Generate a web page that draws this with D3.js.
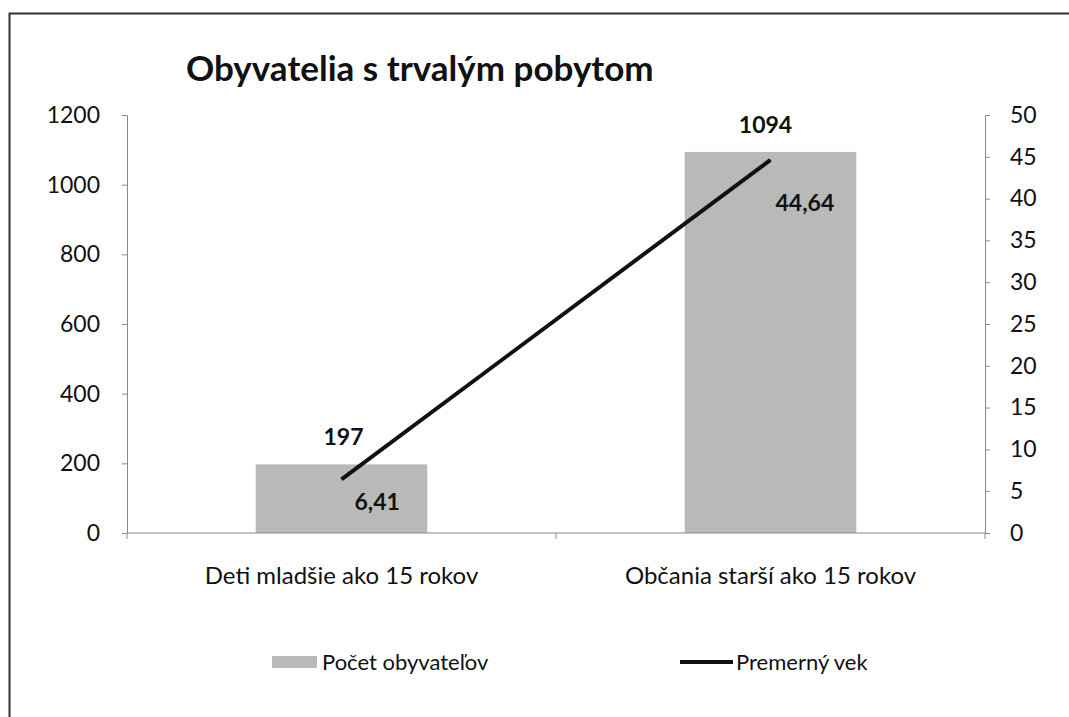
<!DOCTYPE html>
<html>
<head>
<meta charset="utf-8">
<script src="https://cdn.jsdelivr.net/npm/d3@7"></script>
<style>
  body { margin: 0; background: #fff; }
  text { font-family: Lato, "Open Sans", sans-serif; fill: #111; }
  .axis path, .axis line { stroke: #8a8a8a; }
</style>
</head>
<body>
<svg id="graf" width="1069" height="717"></svg>
<script>
// data
var categories = ["Deti mladšie ako 15 rokov", "Občania starší ako 15 rokov"];
var pocet = [197, 1094];
var vek = [6.41, 44.64];
var vekLabels = ["6,41", "44,64"];
var leftTicks = [0, 200, 400, 600, 800, 1000, 1200];
var rightTicks = [0, 5, 10, 15, 20, 25, 30, 35, 40, 45, 50];
var seriesNames = ["Počet obyvateľov", "Premerný vek"];

var svg = d3.select("#graf"),
    margin = {top: 115, right: 84, bottom: 184, left: 127},
    width = 1069 - margin.left - margin.right,
    height = 717 - margin.top - margin.bottom,
    g = svg.append("g").attr("transform", "translate(" + margin.left + "," + margin.top + ")");

var x = d3.scaleBand().domain(categories).range([0, width]).padding(0),
    yLeft = d3.scaleLinear().domain([0, 1200]).range([height, 0]),
    yRight = d3.scaleLinear().domain([0, 50]).range([height, 0]);

var barW = x.bandwidth() * 0.4,
    barFill = "#b9b9b9";

// ramik okolo grafu
svg.append("rect")
    .attr("x", 9.5).attr("y", 13.5)
    .attr("width", 1080).attr("height", 720)
    .attr("fill", "none").attr("stroke", "#333").attr("stroke-width", 2);

// nadpis
svg.append("text")
    .attr("x", 186).attr("y", 81)
    .attr("font-size", 35).attr("font-weight", "bold")
    .text("Obyvatelia s trvalým pobytom");

// stlpce
g.selectAll(".bar")
    .data(pocet)
    .enter().append("rect")
        .attr("class", "bar")
        .attr("x", function(d, i) { return x(categories[i]) + (x.bandwidth() - barW) / 2; })
        .attr("y", function(d) { return yLeft(d); })
        .attr("width", barW)
        .attr("height", function(d) { return height - yLeft(d); })
        .attr("fill", barFill);

// osi
g.append("g")
    .attr("class", "axis")
    .call(d3.axisLeft(yLeft).tickValues(leftTicks).tickFormat(d3.format("d")).tickSize(5).tickPadding(22).tickSizeOuter(0))
    .selectAll("text").attr("font-size", 23).attr("fill", "#111");

g.append("g")
    .attr("class", "axis")
    .attr("transform", "translate(" + width + ",0)")
    .call(d3.axisRight(yRight).tickValues(rightTicks).tickSize(5).tickPadding(20).tickSizeOuter(0))
    .selectAll("text").attr("font-size", 23).attr("fill", "#111");

var xAxis = g.append("g").attr("class", "axis").attr("transform", "translate(0," + height + ")");
xAxis.append("line").attr("x1", 0).attr("x2", width);
var edges = [0].concat(categories.map(function(c) { return x(c) + x.bandwidth(); }));
xAxis.selectAll(".edge")
    .data(edges)
    .enter().append("line")
        .attr("class", "edge")
        .attr("x1", function(d) { return d; }).attr("x2", function(d) { return d; })
        .attr("y1", 0).attr("y2", 6);
xAxis.selectAll(".cat")
    .data(categories)
    .enter().append("text")
        .attr("class", "cat")
        .attr("x", function(d) { return x(d) + x.bandwidth() / 2; })
        .attr("y", 51)
        .attr("text-anchor", "middle")
        .attr("font-size", 24)
        .text(function(d) { return d; });

// ciara priemerneho veku
var line = d3.line()
    .x(function(d, i) { return x(categories[i]) + x.bandwidth() / 2; })
    .y(function(d) { return yRight(d); });

g.append("path")
    .datum(vek)
    .attr("d", line)
    .attr("fill", "none")
    .attr("stroke", "#111")
    .attr("stroke-width", 4);

// popisky hodnot
g.selectAll(".lblBar")
    .data(pocet)
    .enter().append("text")
        .attr("x", function(d, i) { return x(categories[i]) + x.bandwidth() / 2 + (i ? -5 : 2); })
        .attr("y", function(d) { return yLeft(d) - 19; })
        .attr("text-anchor", "middle")
        .attr("font-size", 23).attr("font-weight", "bold")
        .text(function(d) { return d; });

var lblOffset = [[13, 31], [5, 51]];
g.selectAll(".lblLine")
    .data(vek)
    .enter().append("text")
        .attr("x", function(d, i) { return x(categories[i]) + x.bandwidth() / 2 + lblOffset[i][0]; })
        .attr("y", function(d, i) { return yRight(d) + lblOffset[i][1]; })
        .attr("font-size", 23).attr("font-weight", "bold")
        .text(function(d, i) { return vekLabels[i]; });

// legenda
var legend = svg.append("g").attr("transform", "translate(0,662)");
legend.append("rect")
    .attr("x", 272).attr("y", -6).attr("width", 45).attr("height", 12)
    .attr("fill", barFill);
legend.append("text")
    .attr("x", 322).attr("y", 8).attr("font-size", 22)
    .text(seriesNames[0]);
legend.append("line")
    .attr("x1", 680).attr("x2", 733).attr("y1", 0).attr("y2", 0)
    .attr("stroke", "#111").attr("stroke-width", 4);
legend.append("text")
    .attr("x", 736).attr("y", 8).attr("font-size", 22)
    .text(seriesNames[1]);
</script>
</body>
</html>
